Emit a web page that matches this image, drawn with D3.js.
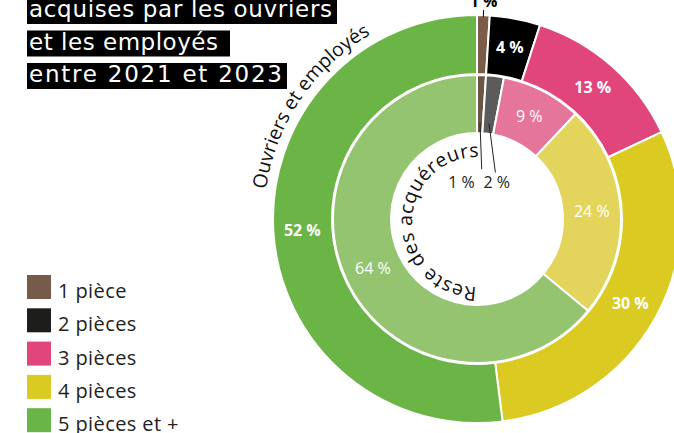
<!DOCTYPE html>
<html>
<head>
<meta charset="utf-8">
<script src="https://cdn.jsdelivr.net/npm/d3@7"></script>
<style>
  body { margin: 0; background: #fff; }
  svg { display: block; font-family: "Open Sans", sans-serif; }
</style>
</head>
<body>
<svg id="chart"></svg>
<script>
const width = 674, height = 433;

// data
const pieces = ['1 pièce', '2 pièces', '3 pièces', '4 pièces', '5 pièces et +'];
const ouvriers = [1, 4, 13, 30, 52];   // outer ring : ouvriers et employés
const reste = [1, 2, 9, 24, 64];       // inner ring : reste des acquéreurs
const titleLines = ['acquises par les ouvriers', 'et les employés ', 'entre 2021 et 2023'];
const titleWidths = [303, 189, 253];   // the title face is wider than DejaVu, stretch spacing

const outerColors = ['#7a5c49', '#000000', '#e0467c', '#dbca21', '#6bb546'];
const innerColors = ['#6b5646', '#5b5b5b', '#e5759b', '#e3d45c', '#94c46f'];
const legendColors = ['#765b4a', '#1d1d1b', '#e0467c', '#dbca21', '#6ab547'];

const cx = 477, cy = 219;

const svg = d3.select('#chart')
  .attr('width', width)
  .attr('height', height);

const pie = d3.pie().sort(null).value((d) => d);
const outerArc = d3.arc().innerRadius(145).outerRadius(204);
const innerArc = d3.arc().innerRadius(86).outerRadius(144);
const outerLabelArc = d3.arc().innerRadius(175).outerRadius(175);
const innerLabelArc = d3.arc().innerRadius(115).outerRadius(115);

const g = svg.append('g').attr('transform', `translate(${cx},${cy})`);

const mid = (d) => (d.startAngle + d.endAngle) / 2;
const polar = (a, r) => [Math.sin(a) * r, -Math.cos(a) * r];
const fmt = (v) => `${v} %`;

// rings
g.selectAll('path.outer')
  .data(pie(ouvriers))
  .enter().append('path')
    .attr('class', 'outer')
    .attr('d', outerArc)
    .attr('fill', (d, i) => outerColors[i])
    .attr('stroke', '#fff')
    .attr('stroke-width', 2);

g.selectAll('path.inner')
  .data(pie(reste))
  .enter().append('path')
    .attr('class', 'inner')
    .attr('d', innerArc)
    .attr('fill', (d, i) => innerColors[i])
    .attr('stroke', '#fff')
    .attr('stroke-width', 2);

// outer labels
const outerPie = pie(ouvriers);
g.selectAll('text.outer')
  .data(outerPie.filter((d) => d.value >= 3))
  .enter().append('text')
    .attr('class', 'outer')
    .attr('transform', (d) => `translate(${outerLabelArc.centroid(d)})`)
    .attr('text-anchor', 'middle')
    .attr('dy', '0.35em')
    .attr('fill', '#fff')
    .attr('font-weight', 700)
    .attr('font-size', 16)
    .text((d) => fmt(d.value));

outerPie.filter((d) => d.value < 3).forEach((d) => {
  const a = mid(d);
  const p1 = polar(a, 202), p2 = polar(a, 209), p3 = polar(a, 212);
  g.append('line')
    .attr('x1', p1[0]).attr('y1', p1[1])
    .attr('x2', p2[0]).attr('y2', p2[1])
    .attr('stroke', '#000').attr('stroke-width', 1);
  g.append('text')
    .attr('x', p3[0]).attr('y', p3[1])
    .attr('text-anchor', 'middle')
    .attr('font-weight', 700)
    .attr('font-size', 16)
    .attr('fill', '#000')
    .text(fmt(d.value));
});

// inner labels
const innerPie = pie(reste);
g.selectAll('text.inner')
  .data(innerPie.filter((d) => d.value >= 3))
  .enter().append('text')
    .attr('class', 'inner')
    .attr('transform', (d) => `translate(${innerLabelArc.centroid(d)})`)
    .attr('text-anchor', 'middle')
    .attr('dy', '0.35em')
    .attr('fill', '#fff')
    .attr('font-size', 16)
    .text((d) => fmt(d.value));

innerPie.filter((d) => d.value < 3).forEach((d) => {
  const a = mid(d);
  const p1 = polar(a, 96), p2 = polar(a * 3, 50);
  g.append('line')
    .attr('x1', p1[0]).attr('y1', p1[1])
    .attr('x2', p2[0]).attr('y2', p2[1])
    .attr('stroke', '#222').attr('stroke-width', 1);
  g.append('text')
    .attr('x', d.index === 0 ? p2[0] - 7 : p2[0] - 12)
    .attr('y', -31)
    .attr('text-anchor', d.index === 0 ? 'end' : 'start')
    .attr('font-size', 16)
    .attr('fill', '#222')
    .text(fmt(d.value));
});

// curved ring titles
const arcPath = (r, a0, a1, dy) => {
  const s = polar(a0, r), e = polar(a1, r);
  return `M${s[0]},${s[1] + dy} A${r},${r} 0 1 1 ${e[0]},${e[1] + dy}`;
};
const deg = Math.PI / 180;
const defs = svg.append('defs');
defs.append('path').attr('id', 'outerTitle').attr('d', arcPath(213, 200 * deg, 400 * deg, 0));
defs.append('path').attr('id', 'innerTitle').attr('d', arcPath(65, 150 * deg, 370 * deg, 3));

g.append('text')
  .attr('font-size', 19.5)
  .attr('fill', '#111')
  .append('textPath')
    .attr('href', '#outerTitle')
    .attr('startOffset', `${(304 - 200) / 200 * 100}%`)
    .attr('text-anchor', 'middle')
    .text('Ouvriers et employés');

g.append('text')
  .attr('font-size', 19.5)
  .attr('letter-spacing', 0.5)
  .attr('fill', '#111')
  .append('textPath')
    .attr('href', '#innerTitle')
    .attr('startOffset', `${(362 - 150) / 220 * 100}%`)
    .attr('text-anchor', 'end')
    .text('Reste des acquéreurs');

// title block
const title = svg.append('g');
titleLines.forEach((line, i) => {
  const row = title.append('g');
  const y = 17 + i * 32.5;
  row.append('text')
    .attr('x', 29)
    .attr('y', y)
    .attr('font-family', '"DejaVu Sans", sans-serif')
    .attr('font-size', 23)
    .attr('fill', '#fff')
    .attr('textLength', titleWidths[i])
    .attr('lengthAdjust', 'spacing')
    .text(line.trim());
  row.insert('rect', 'text')
    .attr('x', 27)
    .attr('y', y - 19)
    .attr('width', titleWidths[i] + (line.endsWith(' ') ? 14 : 7))
    .attr('height', 26)
    .attr('fill', '#000');
});

// legend
const legend = svg.append('g').attr('transform', 'translate(27,275)');
const item = legend.selectAll('g')
  .data(pieces)
  .enter().append('g')
    .attr('transform', (d, i) => `translate(0,${i * 33.3})`);
item.append('rect')
  .attr('width', 24).attr('height', 24)
  .attr('fill', (d, i) => legendColors[i]);
item.append('text')
  .attr('x', 31).attr('y', 23)
  .attr('font-size', 20)
  .attr('letter-spacing', 0.4)
  .attr('fill', '#222')
  .text((d) => d);
</script>
</body>
</html>
